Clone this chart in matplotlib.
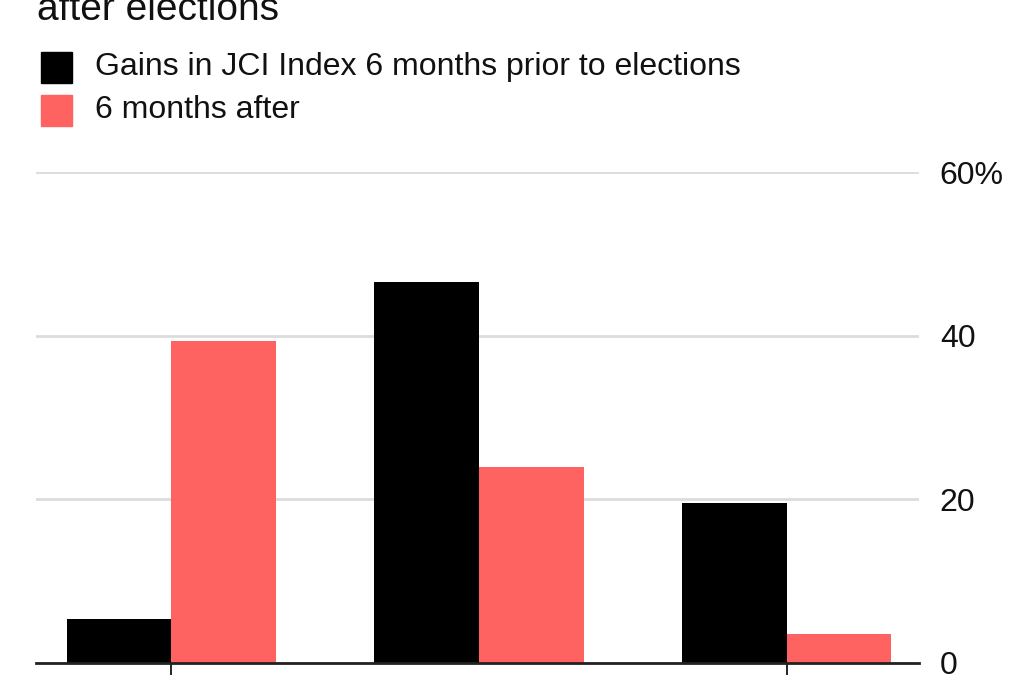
import matplotlib
matplotlib.use("Agg")
import matplotlib.pyplot as plt
import numpy as np

plt.rcParams['font.family'] = ['Liberation Sans', 'DejaVu Sans']

groups = [0, 1, 2]
before = [5.4, 46.5, 19.5]
after = [39.3, 23.9, 3.5]
yticks = [0, 20, 40, 60]
ytick_labels = ["0", "20", "40", "60%"]
series_labels = ["Gains in JCI Index 6 months prior to elections", "6 months after"]

fig = plt.figure(figsize=(10.26, 6.75), dpi=100)
ax = fig.add_axes([36/1026, 12/675, (919-36)/1026, (663-172)/675])

x = np.array(groups)
w = 0.34
ax.bar(x - w/2, before, width=w, color="#000000", zorder=3)
ax.bar(x + w/2, after, width=w, color="#ff6361", zorder=3)

ax.set_ylim(0, 60)
ax.set_xlim(-0.44, 2.43)
ax.set_yticks(yticks)
ax.set_yticklabels(ytick_labels)
ax.yaxis.tick_right()
ax.tick_params(axis='y', length=0, labelsize=23, pad=15, labelcolor="#111111")
ax.grid(axis='y', color="#dcdcdc", linewidth=2, zorder=0)
ax.set_xticks([0, 2])
ax.set_xticklabels(["", ""])
ax.tick_params(axis='x', length=14, width=1.2, color="#000000", direction='out')
for s in ['top', 'left', 'right']:
    ax.spines[s].set_visible(False)
ax.spines['bottom'].set_color("#222222")
ax.spines['bottom'].set_linewidth(2)
ax.spines['bottom'].set_zorder(4)
for lbl in ax.get_yticklabels():
    lbl.set_horizontalalignment('left')

fig.text(37/1026, 1 - 20/675, "after elections", fontsize=28, color="#111111", va='baseline', ha='left')

# legend
from matplotlib.patches import Rectangle
colors = ["#000000", "#ff6361"]
ys = [52, 95]
for lab, c, y0 in zip(series_labels, colors, ys):
    fig.patches.append(Rectangle((41/1026, 1 - (y0+31)/675), 31/1026, 31/675, transform=fig.transFigure, color=c))
    fig.text(95/1026, 1 - (y0+15.5)/675, lab, fontsize=23, color="#111111", va='center', ha='left')

fig.savefig("out.png", dpi=100)
